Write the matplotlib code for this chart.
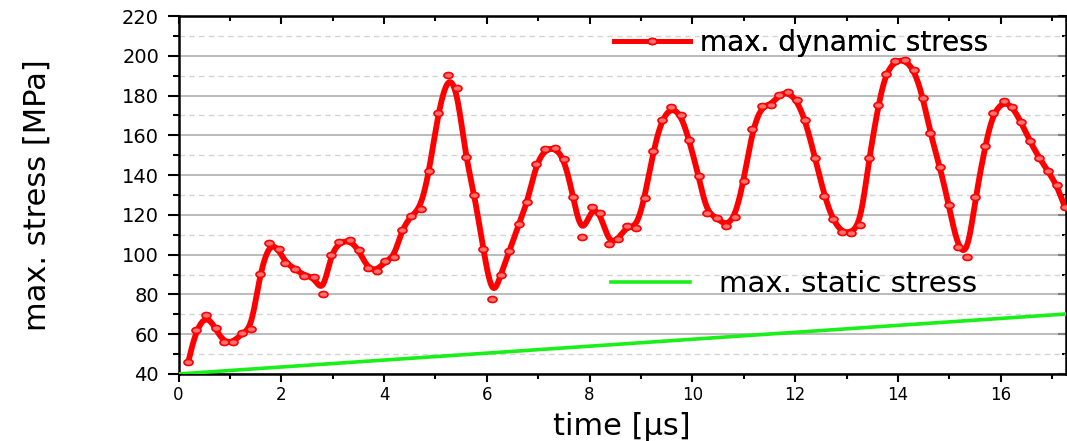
import numpy as np
import matplotlib
matplotlib.use("Agg")
import matplotlib.pyplot as plt
from matplotlib.lines import Line2D
from matplotlib.path import Path
from matplotlib.transforms import Affine2D
from matplotlib.ticker import MultipleLocator

# dynamic stress samples (time in us, stress in MPa)
time_dyn = [0.19, 0.34, 0.54, 0.72, 0.88, 1.07, 1.24, 1.42, 1.58, 1.77,
            1.95, 2.08, 2.27, 2.45, 2.64, 2.81, 2.96, 3.13, 3.34, 3.51,
            3.68, 3.86, 4.02, 4.20, 4.34, 4.52, 4.71, 4.88, 5.05, 5.24,
            5.42, 5.59, 5.76, 5.93, 6.11, 6.27, 6.44, 6.62, 6.79, 6.96,
            7.14, 7.33, 7.51, 7.68, 7.85, 8.04, 8.21, 8.38, 8.56, 8.72,
            8.91, 9.07, 9.24, 9.40, 9.59, 9.78, 9.94, 10.12, 10.28, 10.47,
            10.65, 10.83, 11.00, 11.17, 11.35, 11.53, 11.69, 11.86, 12.03, 12.20,
            12.39, 12.57, 12.73, 12.91, 13.08, 13.27, 13.44, 13.62, 13.76, 13.94,
            14.13, 14.32, 14.49, 14.63, 14.82, 14.99, 15.16, 15.35, 15.51, 15.70,
            15.85, 16.06, 16.23, 16.40, 16.57, 16.75, 16.92, 17.09, 17.25]
stress_dyn = [46.0, 62.1, 69.8, 63.0, 55.9, 55.9, 60.6, 62.8, 90.1, 106.0,
              102.8, 95.9, 92.8, 89.4, 88.7, 80.2, 99.8, 106.3, 107.2, 102.3,
              93.1, 91.9, 96.6, 98.9, 112.2, 119.4, 123.1, 141.9, 171.0, 190.4,
              183.6, 148.9, 130.1, 102.8, 77.5, 89.9, 101.8, 115.2, 126.3, 145.7,
              153.1, 153.7, 148.2, 128.9, 108.7, 123.9, 120.9, 105.3, 107.7, 114.4,
              113.4, 128.4, 151.9, 167.8, 174.3, 170.3, 157.4, 139.7, 121.1, 118.6,
              114.5, 118.7, 137.2, 163.0, 174.8, 175.2, 180.5, 181.7, 177.7, 167.5,
              148.4, 129.6, 117.7, 111.2, 111.0, 115.0, 148.5, 175.2, 190.9, 197.4,
              198.1, 192.9, 178.8, 161.0, 143.9, 125.0, 103.8, 98.9, 128.9, 154.7,
              171.2, 177.2, 174.3, 166.5, 156.9, 148.7, 142.0, 135.0, 123.9]

# static stress (straight line)
time_sta = [0.0, 17.3]
stress_sta = [40.0, 70.2]

RED = "#ff0000"
GREEN = "#19f019"


def bspline(x, y, n=16):
    """Cubic uniform B-spline with the samples as control points (Origin style)."""
    px = np.concatenate([[x[0]] * 2, x, [x[-1]] * 2])
    py = np.concatenate([[y[0]] * 2, y, [y[-1]] * 2])
    u = np.linspace(0, 1, n)
    b0 = (1 - u) ** 3 / 6
    b1 = (3 * u ** 3 - 6 * u ** 2 + 4) / 6
    b2 = (-3 * u ** 3 + 3 * u ** 2 + 3 * u + 1) / 6
    b3 = u ** 3 / 6
    xs, ys = [], []
    for i in range(len(px) - 3):
        xs.append(b0 * px[i] + b1 * px[i + 1] + b2 * px[i + 2] + b3 * px[i + 3])
        ys.append(b0 * py[i] + b1 * py[i + 1] + b2 * py[i + 2] + b3 * py[i + 3])
    return np.concatenate(xs), np.concatenate(ys)


plt.rcParams["font.family"] = ["DejaVu Sans"]

fig = plt.figure(figsize=(10.67, 4.41), dpi=100)
ax = fig.add_axes([0.1673, 0.152, 0.8317, 0.8117])

# slightly wide elliptic marker
ellipse = Path.unit_circle().transformed(Affine2D().scale(1.5, 1.0))

cx, cy = bspline(np.array(time_dyn), np.array(stress_dyn))
ax.plot(cx, cy, color=RED, lw=4.2, zorder=4, solid_capstyle="round")
ax.plot(time_dyn, stress_dyn, ls="none", marker=ellipse, ms=6.5,
        mfc="#ff7070", mec=RED, mew=1.2, zorder=5)
ax.plot(time_sta, stress_sta, color=GREEN, lw=2.6, zorder=3)

ax.set_xlim(0, 17.27)
ax.set_ylim(40, 220)

ax.xaxis.set_major_locator(MultipleLocator(2))
ax.xaxis.set_minor_locator(MultipleLocator(1))
ax.yaxis.set_major_locator(MultipleLocator(20))
ax.yaxis.set_minor_locator(MultipleLocator(10))

# grid: solid major, dashed minor
ax.grid(True, which="major", axis="y", color="#a8a8a8", lw=1.1, zorder=0)
ax.grid(True, which="minor", axis="y", color="#d4d4d4", lw=1.0,
        ls=(0, (4, 3)), zorder=0)
ax.set_axisbelow(True)

for s in ax.spines.values():
    s.set_linewidth(1.8)
    s.set_color("black")

ax.tick_params(axis="both", which="both", direction="out", width=1.5,
               top=False, right=False, color="black")
ax.tick_params(axis="y", which="major", length=8, pad=6, labelsize=14)
ax.tick_params(axis="y", which="minor", length=4.5)
ax.tick_params(axis="x", which="major", length=6, pad=3, labelsize=12)
ax.tick_params(axis="x", which="minor", length=3.5)

# inward ticks on top and right
top = ax.secondary_xaxis("top")
top.xaxis.set_major_locator(MultipleLocator(2))
top.xaxis.set_minor_locator(MultipleLocator(1))
top.tick_params(which="both", direction="in", labeltop=False, width=1.5)
top.tick_params(which="major", length=6)
top.tick_params(which="minor", length=3.5)
right = ax.secondary_yaxis("right")
right.yaxis.set_major_locator(MultipleLocator(20))
right.yaxis.set_minor_locator(MultipleLocator(10))
right.tick_params(which="both", direction="in", labelright=False, width=1.5)
right.tick_params(which="major", length=6)
right.tick_params(which="minor", length=3)

ax.set_xlabel("time [\u03bcs]", fontsize=22)
ax.xaxis.set_label_coords(0.5, -0.105)
ax.xaxis.label.set_va("top")
ax.set_ylabel("max. stress [MPa]", fontsize=22)
ax.yaxis.set_label_coords(-0.143, 0.5)

# two separate legend entries, as in the original
h_dyn = Line2D([], [], color=RED, lw=3.4, marker=ellipse, ms=6.5,
               mfc="#ff7070", mec=RED, mew=1.2)
h_sta = Line2D([], [], color=GREEN, lw=2.6)
leg1 = fig.legend([h_dyn], ["max. dynamic stress"], loc="center left",
                  bbox_to_anchor=(0.575, 0.902), frameon=False, fontsize=20,
                  handlelength=2.75, handletextpad=0.35, borderpad=0,
                  borderaxespad=0, numpoints=1)
leg2 = fig.legend([h_sta], ["max. static stress"], loc="center left",
                  bbox_to_anchor=(0.573, 0.356), frameon=False, fontsize=21,
                  handlelength=2.7, handletextpad=1.0, borderpad=0,
                  borderaxespad=0)
fig.add_artist(leg1)

fig.savefig("out.png", dpi=100, facecolor="white")
